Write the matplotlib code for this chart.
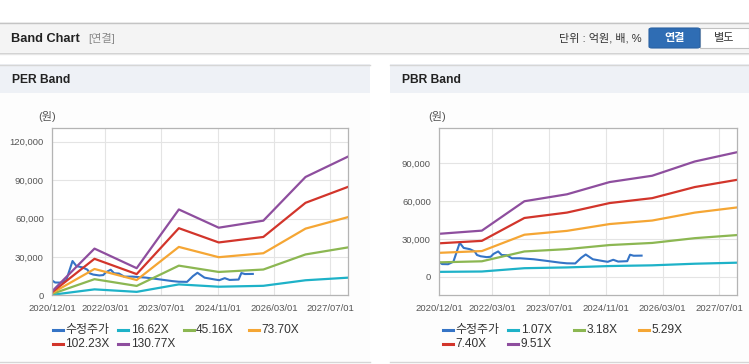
import matplotlib
matplotlib.use("Agg")
import matplotlib.pyplot as plt
import matplotlib.ticker as mticker
from matplotlib.lines import Line2D
from matplotlib.patches import Rectangle, FancyBboxPatch
import pandas as pd

plt.rcParams["font.family"] = ["Liberation Sans", "Noto Sans CJK KR"]

W, H = 749, 364

# PER band: EPS anchor points (band = EPS x multiple)
per_dates = ["2020-12-01", "2021-12-01", "2022-12-01", "2023-12-01",
             "2024-11-10", "2025-12-01", "2026-12-01", "2027-12-01"]
per_eps = [25, 279, 162, 513, 404, 446, 707, 828]
per_multiples = [16.62, 45.16, 73.70, 102.23, 130.77]

# PBR band: BPS anchor points (band = BPS x multiple)
pbr_dates = ["2020-12-01", "2021-12-01", "2022-12-01", "2023-12-01",
             "2024-12-01", "2025-12-01", "2026-12-01", "2027-12-01"]
pbr_bps = [3575, 3838, 6288, 6866, 7886, 8412, 9600, 10379]
pbr_multiples = [1.07, 3.18, 5.29, 7.40, 9.51]

# adjusted share price
price_dates = ["2020-12-01", "2020-12-25", "2021-02-15", "2021-04-01", "2021-05-25",
               "2021-06-28", "2021-08-20", "2021-10-01", "2021-10-20", "2021-11-20",
               "2022-01-12", "2022-02-15", "2022-03-10", "2022-04-20", "2022-05-20",
               "2022-07-01", "2022-08-15", "2022-10-25", "2023-02-20", "2023-06-12",
               "2023-10-05", "2023-12-01", "2024-02-10", "2024-04-01", "2024-05-10",
               "2024-07-10", "2024-10-10", "2024-11-15", "2025-01-01", "2025-02-12",
               "2025-05-01", "2025-05-25", "2025-06-25", "2025-09-01"]
price_values = [11500, 10000, 9900, 11900, 26800,
                22800, 21800, 20000, 17200, 16200,
                15500, 15800, 18000, 20000, 17200,
                17000, 14600, 14600, 13800, 12500,
                11100, 10600, 10500, 15000, 17600,
                13800, 12300, 11800, 13400, 12000,
                12300, 17400, 16600, 16700]

tick_dates = ["2020-12-01", "2022-03-01", "2023-07-01", "2024-11-01", "2026-03-01", "2027-07-01"]
x_range = ["2020-12-01", "2027-12-01"]
per_yticks = [0, 30000, 60000, 90000, 120000]
pbr_yticks = [0, 30000, 60000, 90000]

price_label = "수정주가"
price_color = "#3574c6"
band_colors = ["#1eb2c8", "#8cb752", "#f5a634", "#d2352b", "#8e4e9e"]


def fx(x):
    return x / W


def fy(y):
    return 1 - y / H


def box(fig, x0, y0, x1, y1, **kw):
    fig.add_artist(Rectangle((fx(x0), fy(y1)), (x1 - x0) / W, (y1 - y0) / H,
                             transform=fig.transFigure, zorder=-5, **kw))


def hline(fig, x0, x1, y, color, lw=1.0):
    fig.add_artist(Line2D([fx(x0), fx(x1)], [fy(y), fy(y)], color=color, lw=lw,
                          transform=fig.transFigure, zorder=-4))


def band_panel(fig, px, dates, base, multiples, ylim, yticks, legend_x):
    left, right, top, bottom = px
    ax = fig.add_axes([fx(left), fy(bottom), (right - left) / W, (bottom - top) / H])
    ax.set_facecolor("white")

    ax.plot(pd.to_datetime(price_dates), price_values, color=price_color, lw=1.5,
            solid_joinstyle="round")
    d = pd.to_datetime(dates)
    for m, c in zip(multiples, band_colors):
        ax.plot(d, [v * m for v in base], color=c, lw=1.6, solid_joinstyle="round")

    ax.set_xlim(pd.to_datetime(x_range))
    ax.set_ylim(ylim)
    ax.set_xticks(pd.to_datetime(tick_dates))
    ax.set_xticklabels([t.replace("-", "/") for t in tick_dates])
    ax.set_yticks(yticks)
    ax.yaxis.set_major_formatter(mticker.FuncFormatter(lambda v, p: f"{int(v):,}"))
    ax.tick_params(length=0, labelsize=6.8, colors="#555555", pad=6)
    ax.grid(True, color="#e4e4e4", lw=0.8)
    ax.set_axisbelow(True)
    for s in ax.spines.values():
        s.set_color("#b4b4b4")
        s.set_linewidth(0.9)

    fig.text(fx(legend_x - 6), fy(117), "(원)", fontsize=8, color="#555555",
             ha="center", va="center")

    # legend: 4 columns, two rows
    labels = [price_label] + [f"{m:.2f}X" for m in multiples]
    colors = [price_color] + band_colors
    for i, (lab, c) in enumerate(zip(labels, colors)):
        x = legend_x + (i % 4) * 65.3
        y = 330 + (i // 4) * 14
        fig.add_artist(Line2D([fx(x), fx(x + 10)], [fy(y), fy(y)], color=c, lw=2.2,
                              transform=fig.transFigure))
        fig.text(fx(x + 12.5), fy(y), lab, fontsize=8.6, color="#333333",
                 ha="left", va="center")
    return ax


fig = plt.figure(figsize=(W / 100, H / 100), dpi=100)
fig.patch.set_facecolor("white")

# top header bar
box(fig, 0, 22, W, 52, facecolor="#f4f4f4", edgecolor="none")
hline(fig, 0, W, 22.5, "#c4c4c4", 1.0)
hline(fig, 0, W, 52.5, "#cfcfcf", 1.0)
hline(fig, 0, W, 53.5, "#e6e6e6", 1.0)
fig.text(fx(11), fy(38.5), "Band Chart", fontsize=9.2, fontweight="bold", color="#222222",
         ha="left", va="center")
fig.text(fx(88), fy(38.5), "[연결]", fontsize=8, color="#8a8a8a", ha="left", va="center")
fig.text(fx(642), fy(38.5), "단위 : 억원, 배, %", fontsize=8, color="#333333",
         ha="right", va="center")
fig.add_artist(FancyBboxPatch((fx(649), fy(48)), (51) / W, 20 / H,
                              boxstyle="round,pad=0,rounding_size=0.004",
                              transform=fig.transFigure, facecolor="#2f6db4",
                              edgecolor="#2a62a3", lw=0.8, zorder=-3))
box(fig, 700, 28, 748.5, 48, facecolor="white", edgecolor="#c2c2c2", lw=0.8)
fig.text(fx(674.5), fy(38.5), "연결", fontsize=8, fontweight="bold", color="white",
         ha="center", va="center")
fig.text(fx(724), fy(38.5), "별도", fontsize=8, color="#333333", ha="center", va="center")

# panels
for x0, x1, title in [(0, 370, "PER Band"), (390, W, "PBR Band")]:
    box(fig, x0, 64, x1, 362, facecolor="#fdfdfd", edgecolor="none")
    box(fig, x0, 64, x1, 93, facecolor="#eef1f6", edgecolor="none")
    hline(fig, x0, x1, 64.5, "#d6d6d6", 1.0)
    hline(fig, x0, x1, 362, "#d6d6d6", 1.0)
    fig.text(fx(x0 + 11.5), fy(80), title, fontsize=8.7, fontweight="bold",
             color="#222222", ha="left", va="center")

band_panel(fig, (52.3, 347.7, 128.3, 295.3), per_dates, per_eps, per_multiples,
           (0, 130500), per_yticks, 53)
band_panel(fig, (439.3, 737.3, 128.3, 295.3), pbr_dates, pbr_bps, pbr_multiples,
           (-14750, 117600), pbr_yticks, 443)

fig.savefig("out.png", dpi=100)
